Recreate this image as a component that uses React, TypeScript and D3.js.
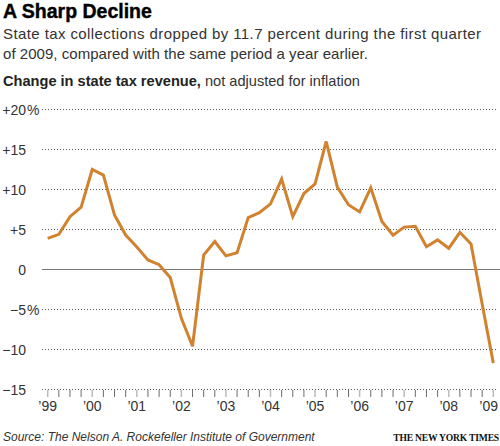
import { useEffect, useRef } from 'react';
import * as d3 from 'd3';

// quarterly, 1999 Q1 .. 2009 Q1, year-over-year % change
const quarters = d3.range(0, 41);
const values = [
  3.9, 4.4, 6.6, 7.8, 12.5, 11.8, 6.8, 4.3, 2.8, 1.2, 0.6, -1.0, -6.1, -9.6,
  1.8, 3.5, 1.7, 2.1, 6.5, 7.1, 8.2, 11.3, 6.6, 9.5, 10.7, 16.0, 10.3, 8.1,
  7.2, 10.2, 6.0, 4.3, 5.3, 5.4, 2.85, 3.7, 2.65, 4.65, 3.2, -4.3, -11.7,
];
const yearLabels = ['99', '00', '01', '02', '03', '04', '05', '06', '07', '08', '09'];
const yTicks = [20, 15, 10, 5, 0, -5, -10, -15];

const FONT = '"Liberation Sans", Arial, Helvetica, sans-serif';
const LINE = '#d0822f';

export default function App() {
  const svgRef = useRef<SVGSVGElement>(null);

  useEffect(() => {
    if (!svgRef.current) return;
    const svg = d3.select(svgRef.current);
    svg.selectAll('*').remove();

    const x = d3.scaleLinear().domain([0, 40]).range([47.7, 493.3]);
    const y = d3.scaleLinear().domain([-15, 20]).range([389.5, 109.5]);

    // header
    svg.append('text')
      .attr('x', 3).attr('y', 18)
      .attr('font-family', FONT).attr('font-size', 19.5).attr('font-weight', 900)
      .attr('fill', '#000')
      .attr('stroke', '#000').attr('stroke-width', 0.4)
      .text('A Sharp Decline');

    const sub = [
      { s: 'State tax collections dropped by 11.7 percent during the first quarter', w: 478 },
      { s: 'of 2009, compared with the same period a year earlier.', w: 365 },
    ];
    sub.forEach((d, i) => {
      svg.append('text')
        .attr('x', 3).attr('y', 39 + i * 19.5)
        .attr('font-family', FONT).attr('font-size', 15)
        .attr('fill', '#333')
        .attr('textLength', d.w)
        .attr('lengthAdjust', 'spacing')
        .text(d.s);
    });

    const label = svg.append('text')
      .attr('x', 3).attr('y', 86)
      .attr('font-family', FONT).attr('font-size', 14.6).attr('fill', '#222');
    label.append('tspan').attr('font-weight', 'bold').text('Change in state tax revenue,');
    label.append('tspan').attr('fill', '#333').text(' not adjusted for inflation');

    // grid
    const grid = svg.append('g');
    yTicks.forEach(t => {
      grid.append('line')
        .attr('x1', 42).attr('x2', t === 0 ? 500 : 498)
        .attr('y1', y(t)).attr('y2', y(t))
        .attr('stroke', t === 0 ? '#777' : '#555')
        .attr('stroke-width', 1)
        .attr('stroke-dasharray', t === 0 ? null : '1,2');

      grid.append('text')
        .attr('x', 26).attr('y', y(t) + 5)
        .attr('text-anchor', 'end')
        .attr('font-family', FONT).attr('font-size', 14).attr('fill', '#333')
        .text(t > 0 ? `+${t}` : t < 0 ? `\u2212${-t}` : '0');
      if (t === 20 || t === -5) {
        grid.append('text')
          .attr('x', 27).attr('y', y(t) + 5)
          .attr('font-family', FONT).attr('font-size', 14).attr('fill', '#333')
          .text('%');
      }
    });

    // quarter ticks
    svg.append('g').selectAll('line')
      .data(quarters)
      .enter().append('line')
      .attr('x1', d => x(d)).attr('x2', d => x(d))
      .attr('y1', 390).attr('y2', 397)
      .attr('stroke', d => (d % 4 === 0 ? '#bbb' : '#444'))
      .attr('stroke-width', d => (d % 4 === 0 ? 1.5 : 0.8));

    svg.append('g').selectAll('text')
      .data(yearLabels)
      .enter().append('text')
      .attr('x', (d, i) => (i === yearLabels.length - 1 ? 498 : x(i * 4)))
      .attr('y', 411)
      .attr('text-anchor', (d, i) => (i === yearLabels.length - 1 ? 'end' : 'middle'))
      .attr('font-family', FONT).attr('font-size', 14).attr('fill', '#333')
      .text(d => `\u2019${d}`);

    // line
    const line = d3.line<number>()
      .x((d, i) => x(quarters[i]))
      .y(d => y(d));

    svg.append('path')
      .datum(values)
      .attr('d', line)
      .attr('fill', 'none')
      .attr('stroke', LINE)
      .attr('stroke-width', 3)
      .attr('stroke-linejoin', 'miter');

    // footer
    svg.append('text')
      .attr('x', 3).attr('y', 441)
      .attr('font-family', FONT).attr('font-size', 12).attr('font-style', 'italic')
      .attr('fill', '#333')
      .text('Source: The Nelson A. Rockefeller Institute of Government');

    svg.append('text')
      .attr('x', 499).attr('y', 441)
      .attr('text-anchor', 'end')
      .attr('font-family', '"Liberation Serif", "Times New Roman", serif')
      .attr('font-size', 9.6).attr('font-weight', 'bold')
      .attr('letter-spacing', -0.2)
      .attr('fill', '#111')
      .text('THE NEW YORK TIMES');
  }, []);

  return (
    <svg
      ref={svgRef}
      width={500}
      height={446}
      style={{ position: 'absolute', left: 0, top: 0, background: '#fff' }}
    />
  );
}
